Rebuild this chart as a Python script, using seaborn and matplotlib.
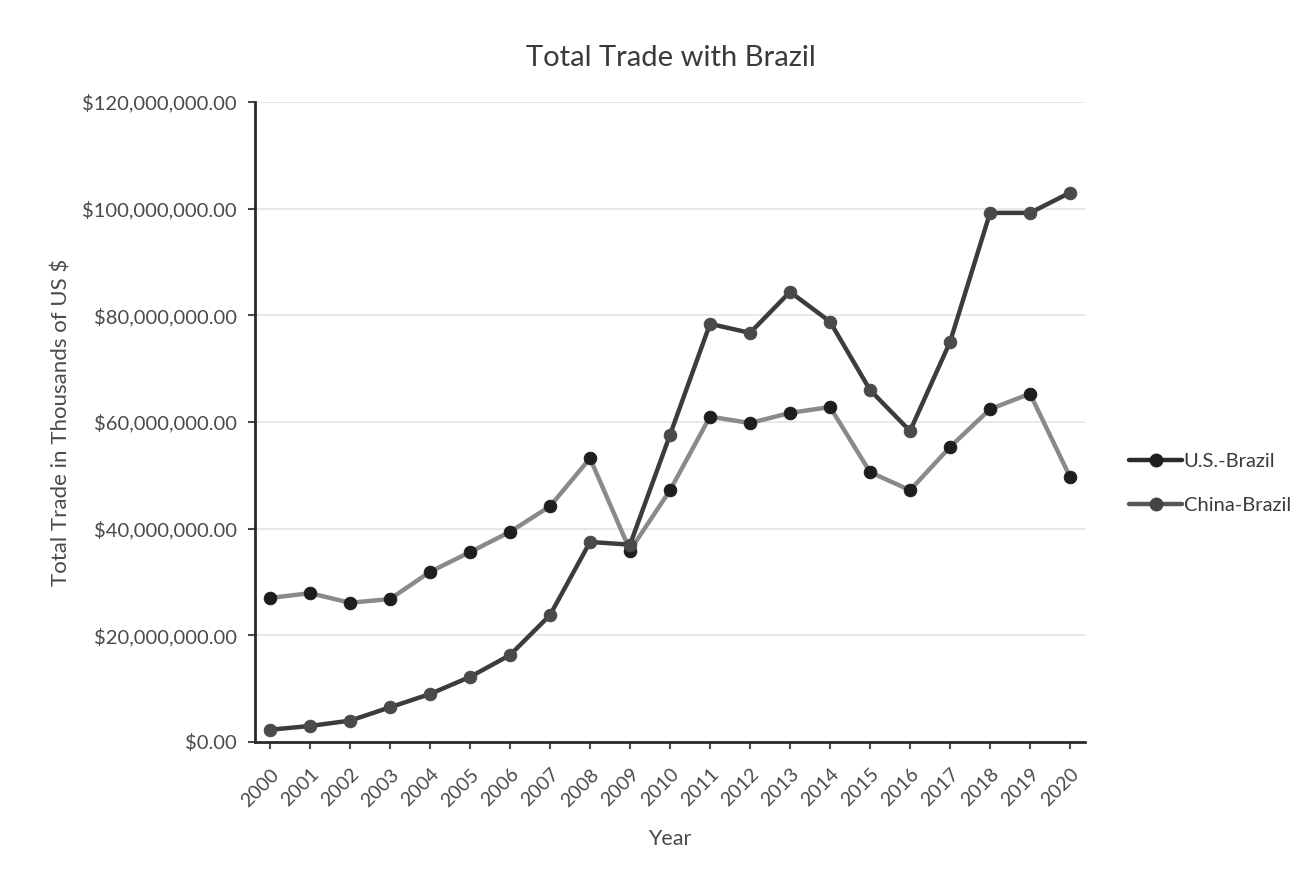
import matplotlib
matplotlib.use("Agg")
import matplotlib.pyplot as plt
import matplotlib.ticker as mticker
from matplotlib.lines import Line2D
import seaborn as sns
import pandas as pd

years = [str(y) for y in range(2000, 2021)]
us_brazil = [27.0, 27.9, 26.1, 26.8, 31.9, 35.6, 39.4, 44.2, 53.2, 35.9,
             47.2, 61.0, 59.8, 61.7, 62.8, 50.6, 47.2, 55.3, 62.4, 65.3, 49.7]
china_brazil = [2.3, 3.0, 4.0, 6.5, 9.0, 12.2, 16.3, 23.8, 37.5, 37.0,
                57.6, 78.4, 76.7, 84.4, 78.8, 66.0, 58.3, 75.0, 99.2, 99.2, 103.0]
series_names = ["U.S.-Brazil", "China-Brazil"]
y_ticks = [0, 20e6, 40e6, 60e6, 80e6, 100e6, 120e6]

df = pd.DataFrame({
    "Year": years * 2,
    "Value": [v * 1e6 for v in us_brazil] + [v * 1e6 for v in china_brazil],
    "Series": [series_names[0]] * len(years) + [series_names[1]] * len(years),
})
df["x"] = list(range(len(years))) * 2

sns.set_theme(style="white")
plt.rcParams["font.family"] = ["Lato", "DejaVu Sans"]

fig = plt.figure(figsize=(13.12, 8.76), dpi=100)
ax = fig.add_axes([0.1944, 0.153, 0.6326, 0.7306])

palette = {"U.S.-Brazil": "#8a8a8a", "China-Brazil": "#3c3c3c"}
sns.lineplot(data=df, x="x", y="Value", hue="Series", palette=palette,
             marker="o", markersize=9, linewidth=3.2, ax=ax, legend=False)
for line, mc in zip(ax.lines, ["#1e1e1e", "#4a4a4a"]):
    line.set_markerfacecolor(mc)
    line.set_markeredgecolor(mc)

ax.set_xlim(-0.375, 20.375)
ax.set_ylim(0, 120e6)
ax.set_yticks(y_ticks)
ax.yaxis.set_major_formatter(mticker.FuncFormatter(lambda v, p: "${:,.2f}".format(v)))
ax.set_xticks(range(len(years)))
ax.set_xticklabels(years, rotation=45, ha="right", rotation_mode="anchor")
ax.tick_params(axis="both", labelsize=14.5, colors="#4a4a4a", length=5, width=1.5,
               direction="out", bottom=True, left=True)
ax.tick_params(axis="x", labelsize=14, pad=12)
ax.tick_params(axis="y", pad=8)
ax.grid(axis="y", color="#e4e4e4", linewidth=1.2)
ax.set_axisbelow(True)
for s in ["top", "right"]:
    ax.spines[s].set_visible(False)
for s in ["left", "bottom"]:
    ax.spines[s].set_color("#2a2a2a")
    ax.spines[s].set_linewidth(2)

ax.set_xlabel("Year", fontsize=15.5, color="#4a4a4a", labelpad=14)
ax.set_ylabel("Total Trade in Thousands of US $", fontsize=16, color="#4a4a4a", labelpad=8)
fig.text(0.511, 0.934, "Total Trade with Brazil", fontsize=21, color="#3a3a3a",
         ha="center", va="center")

handles = [Line2D([], [], color="#2a2a2a", lw=3.2, marker="o", markersize=9,
                  markerfacecolor="#1e1e1e", markeredgecolor="#1e1e1e"),
           Line2D([], [], color="#555555", lw=3.2, marker="o", markersize=9,
                  markerfacecolor="#444444", markeredgecolor="#444444")]
fig.legend(handles, series_names, loc="center left", bbox_to_anchor=(0.847, 0.448),
           frameon=False, fontsize=14.5, handlelength=2.6, handletextpad=0.1,
           labelspacing=1.3, labelcolor="#3a3a3a")

fig.savefig("out.png", dpi=100, facecolor="white")
